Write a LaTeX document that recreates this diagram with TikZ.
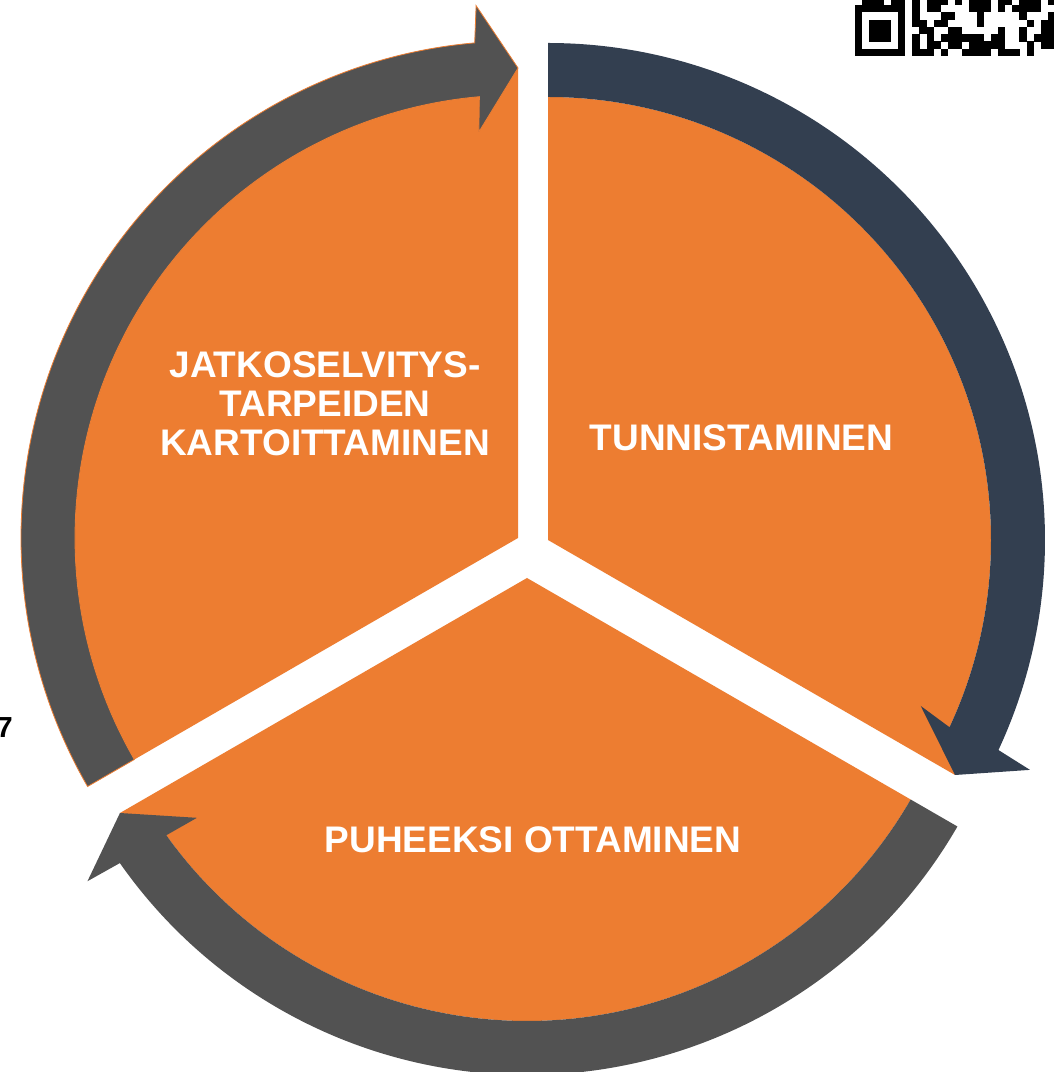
\documentclass[tikz,border=0pt]{standalone}
\usepackage{fontspec}
\setmainfont{Liberation Sans}
\usetikzlibrary{calc}
\definecolor{segorange}{HTML}{ED7D31}
\definecolor{segnavy}{HTML}{333F50}
\definecolor{seggray}{HTML}{525252}
\begin{document}
\begin{tikzpicture}[x=1pt,y=1pt,
  lbl/.style={text=white,font=\bfseries\fontsize{37}{39}\selectfont,inner sep=0pt},
  qrcell/.style={fill=black}]
\useasboundingbox (0,0) rectangle (1054,1072);
\fill[white] (0,0) rectangle (1054,1072);
\clip (0,0) rectangle (1054,1072);
\coordinate (TR) at (548,532);
\coordinate (TL) at (518,534);
\coordinate (BC) at (527,494);
% orange sectors (reaching the arrow tips)
\fill[segorange] (TR) -- ($(TR)+(90:443)$) arc[start angle=90,end angle=-25,radius=443] -- ($(TR)+(-30:470)$) -- cycle;
\fill[segorange] (TL) -- ($(TL)+(210:443)$) arc[start angle=210,end angle=95,radius=443] -- ($(TL)+(90:470)$) -- cycle;
\fill[segorange] (BC) -- ($(BC)+(-30:443)$) arc[start angle=-30,end angle=-145,radius=443] -- ($(BC)+(210:470)$) -- cycle;
% arrow bands
\fill[segnavy] ($(TR)+(90:497)$) arc[start angle=90,end angle=-25,radius=497]
  -- ($(TR)+(-25.5:534)$) -- ($(TR)+(-30:470)$) -- ($(TR)+(-24:408)$)
  -- ($(TR)+(-25:443)$) arc[start angle=-25,end angle=90,radius=443] -- cycle;
\filldraw[fill=seggray,draw=segorange,line width=0.8] ($(TL)+(210:497)$) arc[start angle=210,end angle=95,radius=497]
  -- ($(TL)+(94.5:534)$) -- ($(TL)+(90:470)$) -- ($(TL)+(95.5:408)$)
  -- ($(TL)+(95:443)$) arc[start angle=95,end angle=210,radius=443] -- cycle;
\fill[seggray] ($(BC)+(330:497)$) arc[start angle=330,end angle=215,radius=497]
  -- ($(BC)+(214.6:534)$) -- ($(BC)+(210:470)$) -- ($(BC)+(216:408)$)
  -- ($(BC)+(215.5:443)$) arc[start angle=215.5,end angle=330,radius=443] -- cycle;
% labels
\node[lbl] (tunn) at (741.5,634) {TUNNISTAMINEN};
\node[lbl] (puhe) at (533,232) {PUHEEKSI OTTAMINEN};
\node[lbl,align=center] (jatko) at (325,668) {JATKOSELVITYS-\\TARPEIDEN\\KARTOITTAMINEN};
% partial digit at left edge
\node[font=\bfseries\fontsize{29}{29}\selectfont,anchor=base east,inner sep=0pt] (seven) at (13,334) {7};
% partial QR code
\foreach \r/\cl in {
  0/{1,2,3,5,6,8,10,11,12,14,16,17,18,20,21,23,24,25,27},
  1/{0,1,2,3,4,5,6,8,10,11,16,17,18,20,22,23,24,25},
  2/{0,6,8,12,13,17,23,27},
  3/{0,2,3,4,6,8,9,11,12,17,24,26,27},
  4/{0,2,3,4,6,9,10,13,14,20,23,26,27},
  5/{0,2,3,4,6,8,10,12,13,14,15,16,17,19,20,23,25,26,27},
  6/{0,6,8,10,11,13,14,16,17,18,19,20,24,26,27},
  7/{0,1,2,3,4,5,6,8,9,10,12,15,16,17,18,20,21,22,24}}{
  \foreach \c in \cl {
    \fill[qrcell] ({855+7.15*\c},{1072-(5+7.3*(\r-1))}) rectangle ++(7.3,-7.45);
  }
}
\end{tikzpicture}
\end{document}
